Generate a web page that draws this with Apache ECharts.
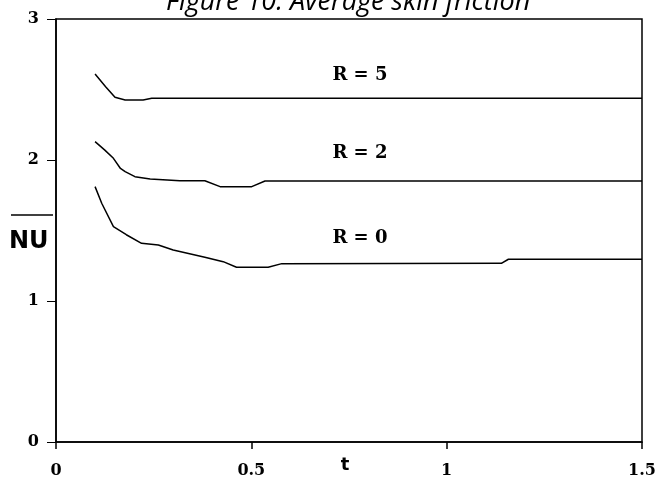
<!DOCTYPE html>
<html>
<head>
<meta charset="utf-8">
<script src="https://cdn.jsdelivr.net/npm/echarts@6/dist/echarts.min.js"></script>
<style>
  html, body { margin: 0; padding: 0; background: #fff; }
  #main { width: 659px; height: 482px; }
</style>
</head>
<body>
<div id="main"></div>
<script>
// curves: [t, NU]
const r5 = [[0.1, 2.61], [0.127, 2.52], [0.151, 2.445], [0.177, 2.426], [0.223, 2.426], [0.245, 2.438], [1.5, 2.438]];
const r2 = [[0.1, 2.13], [0.125, 2.07], [0.147, 2.012], [0.165, 1.94], [0.177, 1.917], [0.202, 1.882], [0.241, 1.865],
  [0.317, 1.853], [0.381, 1.853], [0.42, 1.811], [0.501, 1.811], [0.535, 1.851], [1.5, 1.851]];
const r0 = [[0.1, 1.811], [0.117, 1.693], [0.147, 1.527], [0.18, 1.47], [0.219, 1.409], [0.262, 1.397], [0.3, 1.362],
  [0.381, 1.31], [0.428, 1.279], [0.462, 1.239], [0.543, 1.239], [0.578, 1.265], [1.14, 1.267], [1.158, 1.296], [1.5, 1.296]];
const curveLabels = ['R = 5', 'R = 2', 'R = 0'];
const labelPos = [[0.778, 2.60], [0.778, 2.05], [0.778, 1.447]];
const xTicks = [0, 0.5, 1, 1.5];
const yTicks = [0, 1, 2, 3];

let chart = echarts.init(document.getElementById('main'));

function curve(data, i) {
  return {
    type: 'line',
    data: data,
    showSymbol: false,
    lineStyle: { color: '#000', width: 1.5 },
    markPoint: {
      symbolSize: 0,
      label: {
        show: true,
        formatter: curveLabels[i],
        color: '#000',
        fontFamily: 'DejaVu Serif',
        fontWeight: 'bold',
        fontSize: 18
      },
      data: [{ coord: labelPos[i] }]
    }
  };
}

let option = {
  animation: false,
  backgroundColor: '#fff',
  grid: {
    left: 56, right: 17, top: 19, bottom: 40,
    outerBoundsMode: 'none',
    show: true, borderColor: '#000', borderWidth: 1.5
  },
  xAxis: {
    type: 'value',
    min: xTicks[0],
    max: xTicks[xTicks.length - 1],
    interval: 0.5,
    name: 't',
    nameLocation: 'middle',
    nameGap: 14,
    nameMoveOverlap: false,
    nameTextStyle: { fontFamily: 'DejaVu Sans', fontWeight: 'bold', fontSize: 18, color: '#000', padding: [0, 8, 0, 0] },
    axisLine: { lineStyle: { color: '#000', width: 1.5 } },
    axisTick: { inside: false, length: 7, lineStyle: { color: '#000', width: 1.5 } },
    splitLine: { show: false },
    axisLabel: {
      margin: 21,
      color: '#000',
      fontFamily: 'DejaVu Serif',
      fontWeight: 'bold',
      fontSize: 16,
      formatter: v => String(v)
    }
  },
  yAxis: {
    type: 'value',
    min: yTicks[0],
    max: yTicks[yTicks.length - 1],
    interval: 1,
    axisLine: { show: true, lineStyle: { color: '#000', width: 1.5 } },
    axisTick: { show: true, length: 9, lineStyle: { color: '#000', width: 1 } },
    splitLine: { show: false },
    axisLabel: {
      margin: 17,
      color: '#000',
      fontFamily: 'DejaVu Serif',
      fontWeight: 'bold',
      fontSize: 16
    }
  },
  series: [curve(r5, 0), curve(r2, 1), curve(r0, 2)],
  graphic: [
    {
      type: 'text',
      left: 166,
      top: -11,
      style: { text: 'Figure 10: Average skin friction', font: 'italic 27px "Open Sans"', fill: '#000' }
    },
    {
      type: 'line',
      shape: { x1: 11, y1: 215, x2: 53, y2: 215 },
      style: { stroke: '#000', lineWidth: 1.5 }
    },
    {
      type: 'text',
      left: 9,
      top: 230,
      style: { text: 'NU', font: 'bold 24px "DejaVu Sans"', fill: '#000' }
    }
  ]
};
chart.setOption(option);
</script>
</body>
</html>
